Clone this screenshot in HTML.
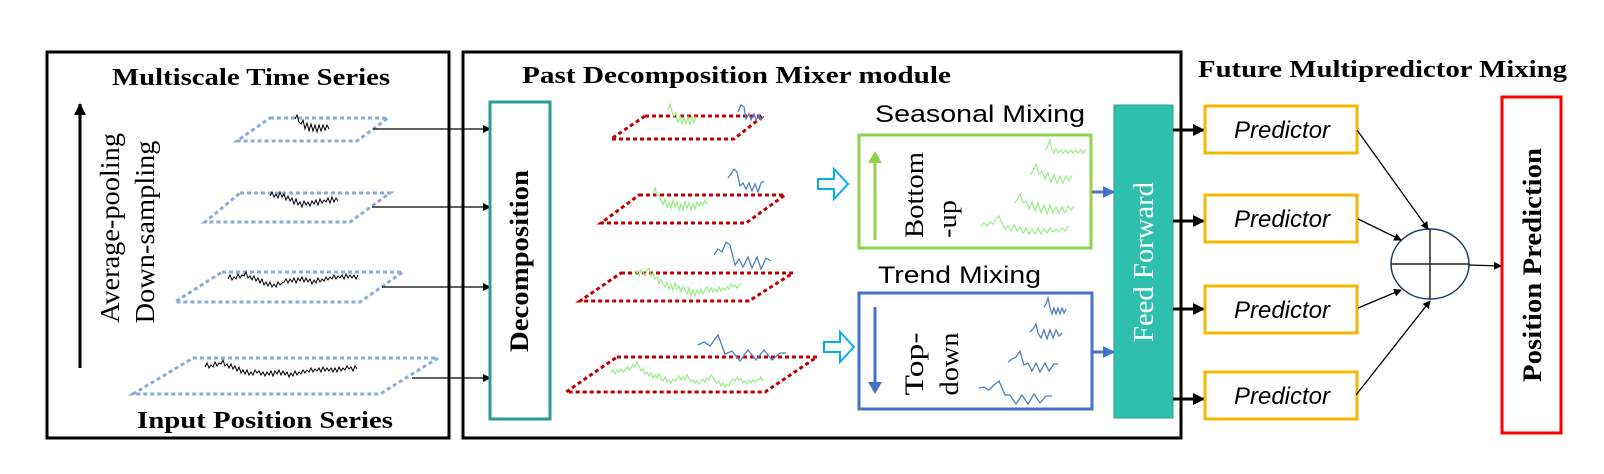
<!DOCTYPE html>
<html><head><meta charset="utf-8"><style>
html,body{margin:0;padding:0;background:#fff;}
svg{display:block;}
</style></head><body>
<svg width="1604" height="474" viewBox="0 0 1604 474" xmlns="http://www.w3.org/2000/svg">
<defs>
<marker id="ab" markerWidth="8" markerHeight="8" refX="7" refY="4" orient="auto" markerUnits="userSpaceOnUse"><path d="M0,0 L8,4 L0,8 z" fill="#000"/></marker>
<marker id="abb" markerWidth="12" markerHeight="12" refX="11" refY="6" orient="auto" markerUnits="userSpaceOnUse"><path d="M0,0 L12,6 L0,12 z" fill="#000"/></marker>
<marker id="ag" markerWidth="12" markerHeight="12" refX="6" refY="1" orient="auto" markerUnits="userSpaceOnUse"><path d="M0,0 L12,6 L0,12 z" fill="#92d050"/></marker>
<marker id="abl" markerWidth="12" markerHeight="12" refX="11" refY="6" orient="auto" markerUnits="userSpaceOnUse"><path d="M0,0 L12,6 L0,12 z" fill="#4472c4"/></marker>
</defs>
<rect width="1604" height="474" fill="#fff"/>

<!-- outer boxes -->
<rect x="47" y="52" width="402" height="386" fill="none" stroke="#000" stroke-width="3"/>
<rect x="463" y="52" width="718" height="386" fill="none" stroke="#000" stroke-width="3"/>

<g font-family="Liberation Serif, serif" font-weight="bold" font-size="24" fill="#000">
<text x="112" y="85" textLength="278" lengthAdjust="spacingAndGlyphs">Multiscale Time Series</text>
<text x="137" y="428" textLength="256" lengthAdjust="spacingAndGlyphs">Input Position Series</text>
<text x="522" y="83" textLength="429" lengthAdjust="spacingAndGlyphs">Past Decomposition Mixer  module</text>
<text x="1198" y="77" textLength="369" lengthAdjust="spacingAndGlyphs">Future Multipredictor Mixing</text>
</g>

<!-- left vertical arrow -->
<line x1="80" y1="368" x2="80" y2="104" stroke="#000" stroke-width="3" marker-end="url(#abb)"/>
<g font-family="Liberation Serif, serif" font-size="27" fill="#000">
<text transform="translate(119,228) rotate(-90)" text-anchor="middle" textLength="190" lengthAdjust="spacingAndGlyphs">Average-pooling</text>
<text transform="translate(154,232) rotate(-90)" text-anchor="middle" textLength="183" lengthAdjust="spacingAndGlyphs">Down-sampling</text>
</g>

<!-- blue dotted parallelograms -->
<g fill="none" stroke="#8eaadb" stroke-width="3" stroke-dasharray="4 3">
<polygon points="270,118 388,118 357,141 237,141"/>
<polygon points="240,193 390,193 350,222 205,222"/>
<polygon points="222,272 403,272 360,302 175,302"/>
<polygon points="193,358 438,358 380,394 133,394"/>
</g>
<!-- black waves -->
<g fill="none" stroke="#000" stroke-width="1">
<path d="M295,119 l2,-4 2,7 2,2 2,-4 2,9 2,-6 2,8 2,-7 2,7 2,-6 2,7 2,-7 2,6 2,-6 2,5 2,-5 2,4"/>
<path d="M270,196 l2,-4 2,5 2,-3 2,4 2,-6 2,5 2,-3 2,6 2,-4 2,5 2,-3 2,6 2,-5 2,6 2,-3 2,5 2,-6 2,4 2,-3 2,4 2,-5 2,3 2,-4 2,5 2,-6 2,4 2,-3 2,2 2,-4 2,5 2,-6 2,5 2,-4 2,3"/>
<path d="M228,279 l2,-4 2,5 2,-3 2,2 2,-5 2,4 2,-3 2,1 2,-4 2,6 2,-2 2,4 2,-4 2,5 2,-3 2,5 2,-4 2,6 2,-3 2,4 2,-4 2,5 2,-3 2,3 2,-5 2,3 2,-2 2,-1 2,-3 2,4 2,-4 2,3 2,-4 2,5 2,-5 2,3 2,-4 2,5 2,-4 2,4 2,-3 2,5 2,-4 2,3 2,-5 2,4 2,-3 2,2 2,-4 2,3 2,-3 2,2 2,-4 2,4 2,-3 2,2 2,-3 2,4 2,-5 2,4 2,-3 2,3 2,-3 2,4 2,-4"/>
<path d="M205,367 l2,-4 2,5 2,-3 2,2 2,-5 2,4 2,-3 2,1 2,-4 2,6 2,-2 2,4 2,-4 2,5 2,-3 2,5 2,-4 2,6 2,-3 2,4 2,-4 2,5 2,-3 2,3 2,-5 2,3 2,-2 2,4 2,-3 2,4 2,-4 2,3 2,-4 2,5 2,-5 2,3 2,-4 2,5 2,-4 2,4 2,-3 2,5 2,-4 2,3 2,-5 2,4 2,-3 2,2 2,-4 2,3 2,-3 2,2 2,-4 2,4 2,-3 2,2 2,-3 2,4 2,-5 2,4 2,-3 2,3 2,-3 2,4 2,-4 2,4 2,-5 2,4 2,-3 2,2 2,-4 2,3 2,-2 2,4 2,-5 2,3"/>
</g>
<!-- arrows to decomposition -->
<g stroke="#000" stroke-width="1.3" marker-end="url(#ab)">
<line x1="373" y1="129" x2="490" y2="129"/>
<line x1="372" y1="207" x2="490" y2="207"/>
<line x1="382" y1="287" x2="490" y2="287"/>
<line x1="412" y1="378" x2="490" y2="378"/>
</g>
<rect x="490" y="102" width="60" height="317" fill="#fff" stroke="#2e9d8f" stroke-width="3"/>
<text transform="translate(528,261) rotate(-90)" text-anchor="middle" font-family="Liberation Serif, serif" font-weight="bold" font-size="26" textLength="182" lengthAdjust="spacingAndGlyphs">Decomposition</text>

<!-- red dotted parallelograms -->
<g fill="none" stroke="#c00000" stroke-width="3" stroke-dasharray="4 3">
<polygon points="645,116 763,116 734,139 611,139"/>
<polygon points="639,195 785,195 746,223 601,223"/>
<polygon points="621,273 793,273 749,301 580,301"/>
<polygon points="617,357 817,357 765,392 566,392"/>
</g>
<g fill="none" stroke="#99ee88" stroke-width="1.2">
<path d="M668,110 l2,-6 2,8 2,4 2,-3 2,10 2,-8 2,9 2,-6 2,6 2,-7 2,8 2,-8 2,6 2,-7"/>
<path d="M653,193 l2,-5 2,8 2,-2 2,6 2,5 2,-6 2,8 2,-5 2,6 2,-8 2,7 2,-5 2,8 2,-6 2,6 2,-8 2,6 2,-5 2,7 2,-6 2,5 2,-7 2,4 2,-4 2,3 2,-5 2,4"/>
<path d="M635,275 l2,-4 2,5 2,-6 2,2 2,4 2,-6 2,-2 2,8 2,-3 2,6 2,-2 2,6 2,-4 2,5 2,3 2,-5 2,7 2,-5 2,6 2,-7 2,6 2,-3 2,6 2,-5 2,3 2,4 2,-6 2,7 2,-5 2,6 2,-6 2,4 2,-5 2,5 2,-4 2,-3 2,5 2,-4 2,4 2,-3 2,3 2,-5 2,4 2,-3 2,2 2,-3 2,2 2,-5 2,3 2,-2 2,3 2,-2 2,-3"/>
<path d="M611,373 l2,-3 2,4 2,-4 2,2 2,-3 2,3 2,-2 2,-3 2,3 2,-2 2,-4 2,3 2,-5 2,4 2,5 2,-2 2,5 2,-2 2,4 2,-3 2,5 2,-3 2,3 2,-4 2,5 2,2 2,-4 2,5 2,-2 2,3 2,-4 2,2 2,-3 2,-2 2,4 2,-3 2,3 2,-5 2,3 2,4 2,-2 2,3 2,-3 2,4 2,-2 2,-3 2,3 2,-4 2,2 2,-5 2,3 2,2 2,3 2,-2 2,5 2,-3 2,4 2,-3 2,2 2,-4 2,-3 2,2 2,-4 2,3 2,-2 2,5 2,-2 2,3 2,-4 2,3 2,-3 2,2 2,-3 2,1 2,-3 2,4"/>
</g>
<g fill="none" stroke="#4f81bd" stroke-width="1.3">
<path d="M738,112 l3,-7 3,2 2,12 3,-5 2,6 3,-6 2,6 3,-5 2,5 3,-4"/>
<path d="M728,178 l3,-4 3,-5 3,3 3,14 3,-3 3,6 3,-6 3,8 3,-7 3,8 3,-9 3,-2"/>
<path d="M714,255 l4,-6 4,3 4,-10 4,3 5,20 4,-6 4,8 5,-10 4,11 5,-11 4,12 5,-11 5,3"/>
<path d="M698,345 l6,-3 6,4 8,-11 7,19 7,-3 8,10 8,-11 8,10 8,-10 8,10 8,-7 6,0"/>
</g>

<!-- hollow arrows -->
<g fill="#fff" stroke="#00b0f0" stroke-width="2">
<path d="M818,179 L834,179 L834,169 L848,184 L834,199 L834,189 L818,189 Z"/>
<path d="M824,342 L840,342 L840,332 L854,347 L840,362 L840,352 L824,352 Z"/>
</g>

<!-- seasonal / trend boxes -->
<g font-family="Liberation Sans, sans-serif" font-size="24" fill="#000">
<text x="875" y="122" textLength="210" lengthAdjust="spacingAndGlyphs">Seasonal Mixing</text>
<text x="878" y="283" textLength="163" lengthAdjust="spacingAndGlyphs">Trend Mixing</text>
</g>
<rect x="859" y="135" width="232" height="113" fill="none" stroke="#92d050" stroke-width="3"/>
<rect x="859" y="293" width="233" height="116" fill="none" stroke="#4472c4" stroke-width="3"/>
<line x1="875" y1="240" x2="875" y2="162" stroke="#92d050" stroke-width="3"/>
<path d="M868,163 L875,151 L882,163 Z" fill="#92d050"/>
<line x1="875" y1="307" x2="875" y2="383" stroke="#4472c4" stroke-width="3"/>
<path d="M868,382 L875,394 L882,382 Z" fill="#4472c4"/>
<g font-family="Liberation Serif, serif" font-size="26" fill="#000">
<text transform="translate(923,195) rotate(-90)" text-anchor="middle" textLength="86" lengthAdjust="spacingAndGlyphs">Bottom</text>
<text transform="translate(956,219) rotate(-90)" text-anchor="middle" textLength="38" lengthAdjust="spacingAndGlyphs">-up</text>
<text transform="translate(923,364) rotate(-90)" text-anchor="middle" textLength="63" lengthAdjust="spacingAndGlyphs">Top-</text>
<text transform="translate(958,364) rotate(-90)" text-anchor="middle" textLength="63" lengthAdjust="spacingAndGlyphs">down</text>
</g>
<g fill="none" stroke="#99ee88" stroke-width="1.2">
<path d="M1046,150 l2,-5 2,-5 2,10 2,3 2,-4 2,4 3,-3 2,3 3,-3 2,3 3,-3 2,3 3,-3 2,3 3,-3 2,3 2,-3"/>
<path d="M1030,175 l3,-4 3,-7 3,10 3,-3 3,8 3,-6 3,9 3,-7 3,8 3,-7 3,7 3,-7 3,5 3,-6"/>
<path d="M1014,203 l3,-3 3,-6 3,9 3,-2 3,8 3,-7 3,9 3,-8 3,10 3,-8 3,9 3,-9 3,8 3,-6 3,6 3,-6 3,6 3,-7 3,4 3,-4"/>
<path d="M981,226 l3,-3 3,3 3,-4 3,2 3,-5 3,-3 3,7 3,6 3,-3 3,5 3,-6 3,6 3,-4 3,6 3,-5 3,6 3,-5 3,5 3,-6 3,6 3,-5 3,4 3,-5 3,4 3,-3 3,3 3,-4 3,3 3,-5"/>
</g>
<g fill="none" stroke="#4f81bd" stroke-width="1.3">
<path d="M1044,307 l2,-3 2,-6 2,10 2,6 2,-6 2,6 2,-6 2,6 2,-6 2,5 2,-4"/>
<path d="M1030,332 l3,-3 3,-5 2,9 3,5 3,-8 3,9 3,-9 3,8 3,-8 3,6 3,-3"/>
<path d="M1008,362 l4,-3 4,-2 4,-6 4,14 4,-2 4,8 4,-8 4,9 5,-9 4,8 5,-7 4,0"/>
<path d="M979,388 l5,-1 5,3 5,-5 5,-4 6,14 5,0 6,9 6,-9 6,9 6,-10 6,9 6,-7 6,0"/>
</g>
<line x1="1092" y1="192" x2="1114" y2="192" stroke="#4472c4" stroke-width="3" marker-end="url(#abl)"/>
<line x1="1092" y1="352" x2="1114" y2="352" stroke="#4472c4" stroke-width="3" marker-end="url(#abl)"/>

<!-- feed forward -->
<rect x="1114" y="105" width="59" height="313" fill="#2ebfad" stroke="#2a9d8f" stroke-width="1"/>
<text transform="translate(1153,262) rotate(-90)" text-anchor="middle" font-family="Liberation Serif, serif" font-size="28" fill="#fff" textLength="160" lengthAdjust="spacingAndGlyphs">Feed Forward</text>

<!-- predictors -->
<g stroke="#000" stroke-width="3" marker-end="url(#abb)">
<line x1="1173" y1="130" x2="1204" y2="130"/>
<line x1="1173" y1="221" x2="1204" y2="221"/>
<line x1="1173" y1="309" x2="1204" y2="309"/>
<line x1="1173" y1="399" x2="1204" y2="399"/>
</g>
<g fill="#fff" stroke="#f5b800" stroke-width="3">
<rect x="1205" y="106" width="152" height="47"/>
<rect x="1205" y="195" width="152" height="47"/>
<rect x="1205" y="286" width="152" height="47"/>
<rect x="1205" y="372" width="152" height="47"/>
</g>
<g font-family="Liberation Sans, sans-serif" font-style="italic" font-size="24" fill="#000" text-anchor="middle">
<text x="1282" y="138">Predictor</text>
<text x="1282" y="227">Predictor</text>
<text x="1282" y="318">Predictor</text>
<text x="1282" y="404">Predictor</text>
</g>

<!-- combiner -->
<ellipse cx="1430" cy="264" rx="39" ry="35" fill="#fff" stroke="#1f3864" stroke-width="1.5"/>
<line x1="1391" y1="264" x2="1469" y2="264" stroke="#222" stroke-width="1.5"/>
<line x1="1430" y1="229" x2="1430" y2="299" stroke="#222" stroke-width="1.5"/>
<g stroke="#000" stroke-width="1.3" marker-end="url(#ab)">
<line x1="1357" y1="130" x2="1428" y2="229"/>
<line x1="1358" y1="219" x2="1401" y2="240"/>
<line x1="1358" y1="308" x2="1401" y2="290"/>
<line x1="1356" y1="395" x2="1430" y2="301"/>
<line x1="1469" y1="265" x2="1501" y2="266"/>
</g>

<rect x="1502" y="97" width="59" height="336" fill="none" stroke="#ff0000" stroke-width="3"/>
<text transform="translate(1541,265) rotate(-90)" text-anchor="middle" font-family="Liberation Serif, serif" font-weight="bold" font-size="26" fill="#000" textLength="234" lengthAdjust="spacingAndGlyphs">Position Prediction</text>
</svg>
</body></html>
